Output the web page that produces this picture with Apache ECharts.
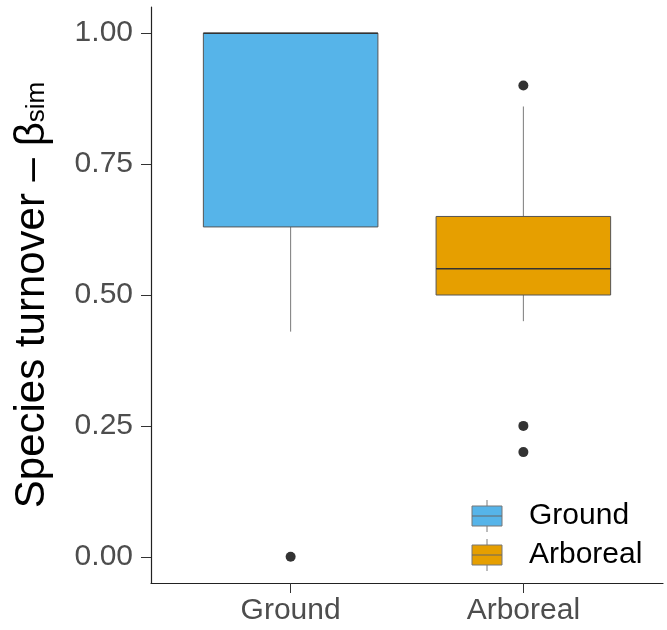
<!DOCTYPE html>
<html>
<head>
<meta charset="utf-8">
<script src="https://cdn.jsdelivr.net/npm/echarts@6/dist/echarts.min.js"></script>
<style>
  html, body { margin: 0; padding: 0; background: #fff; }
  #chart { width: 667px; height: 630px; }
</style>
</head>
<body>
<div id="chart"></div>
<script>
// habitat groups, box stats: [lowWhisker, q1, median, q3, highWhisker]
var categories = ['Ground', 'Arboreal'];
var colors = ['#56B4E9', '#E69F00'];
var boxStats = [
    [0.43, 0.63, 1.00, 1.00, 1.00],
    [0.45, 0.50, 0.55, 0.65, 0.86]
];
// outliers: [group index (1-based), value]
var outliers = [
    [1, 0.00],
    [2, 0.90],
    [2, 0.25],
    [2, 0.20]
];
var yTicks = [0, 0.25, 0.5, 0.75, 1];

var FONT = 'Liberation Sans, Arial, sans-serif';
var chart = echarts.init(document.getElementById('chart'));

var boxData = boxStats.map(function (s, i) {
    return [i + 1].concat(s);
});

function renderBox(params, api) {
    var x = api.value(0);
    var half = 0.375;
    var lo = api.coord([x, api.value(1)]);
    var q1 = api.coord([x, api.value(2)]);
    var med = api.coord([x, api.value(3)]);
    var q3 = api.coord([x, api.value(4)]);
    var hi = api.coord([x, api.value(5)]);
    var left = api.coord([x - half, 0])[0];
    var right = api.coord([x + half, 0])[0];
    var c = colors[params.dataIndex];
    return {
        type: 'group',
        children: [
            { type: 'line', shape: { x1: lo[0], y1: lo[1], x2: q1[0], y2: q1[1] },
              style: { stroke: '#7a7a7a', lineWidth: 1 } },
            { type: 'line', shape: { x1: hi[0], y1: hi[1], x2: q3[0], y2: q3[1] },
              style: { stroke: '#7a7a7a', lineWidth: 1 } },
            { type: 'rect', shape: { x: left, y: q3[1], width: right - left, height: q1[1] - q3[1] },
              style: { fill: c, stroke: '#555', lineWidth: 1 } },
            { type: 'line', shape: { x1: left, y1: med[1], x2: right, y2: med[1] },
              style: { stroke: '#333', lineWidth: 1.6 } }
        ]
    };
}

// legend keys drawn like small boxes
var legendItems = [];
categories.forEach(function (name, i) {
    var top = 506 + i * 39;
    legendItems.push(
        { type: 'line', shape: { x1: 487, y1: top - 6, x2: 487, y2: top + 26 },
          style: { stroke: '#7a7a7a', lineWidth: 1 } },
        { type: 'rect', shape: { x: 472, y: top, width: 30, height: 20 },
          style: { fill: colors[i], stroke: '#777', lineWidth: 1 } },
        { type: 'line', shape: { x1: 472, y1: top + 10, x2: 502, y2: top + 10 },
          style: { stroke: '#666', lineWidth: 1 } },
        { type: 'text', x: 529, y: top + 10,
          style: { text: name, fill: '#000', fontSize: 30, fontFamily: FONT,
                   verticalAlign: 'middle' } }
    );
});

chart.setOption({
    animation: false,
    grid: { left: 151, right: 4, top: 7, bottom: 47 },
    xAxis: {
        type: 'value',
        min: 0.4,
        max: 2.6,
        splitLine: { show: false },
        axisLine: { onZero: false, lineStyle: { color: '#222', width: 1.2 } },
        axisTick: { customValues: [1, 2], length: 10, lineStyle: { color: '#333' } },
        axisLabel: {
            customValues: [1, 2],
            formatter: function (v) { return categories[Math.round(v) - 1]; },
            color: '#4d4d4d', fontSize: 30, margin: 13, fontFamily: FONT
        }
    },
    yAxis: {
        type: 'value',
        min: -0.05,
        max: 1.05,
        splitLine: { show: false },
        axisLine: { show: true, onZero: false, lineStyle: { color: '#222', width: 1.2 } },
        axisTick: { show: true, customValues: yTicks, length: 10, lineStyle: { color: '#333' } },
        axisLabel: {
            customValues: yTicks,
            formatter: function (v) { return v.toFixed(2); },
            color: '#4d4d4d', fontSize: 30, margin: 18, fontFamily: FONT
        },
        name: '{a|Species turnover \u2013 \u03b2}{s|sim}',
        nameLocation: 'middle',
        nameGap: 95,
        nameTextStyle: {
            rich: {
                a: { fontSize: 42, color: '#000', fontFamily: FONT, lineHeight: 48 },
                s: { fontSize: 26, color: '#000', fontFamily: FONT,
                     verticalAlign: 'bottom', padding: [0, 0, 6, 0] }
            }
        }
    },
    series: [
        {
            type: 'custom',
            renderItem: renderBox,
            data: boxData,
            encode: { x: 0, y: [1, 2, 3, 4, 5] },
            z: 2
        },
        {
            type: 'scatter',
            data: outliers,
            symbolSize: 10,
            itemStyle: { color: '#333', opacity: 1 },
            z: 3
        }
    ],
    graphic: legendItems
});
</script>
</body>
</html>
